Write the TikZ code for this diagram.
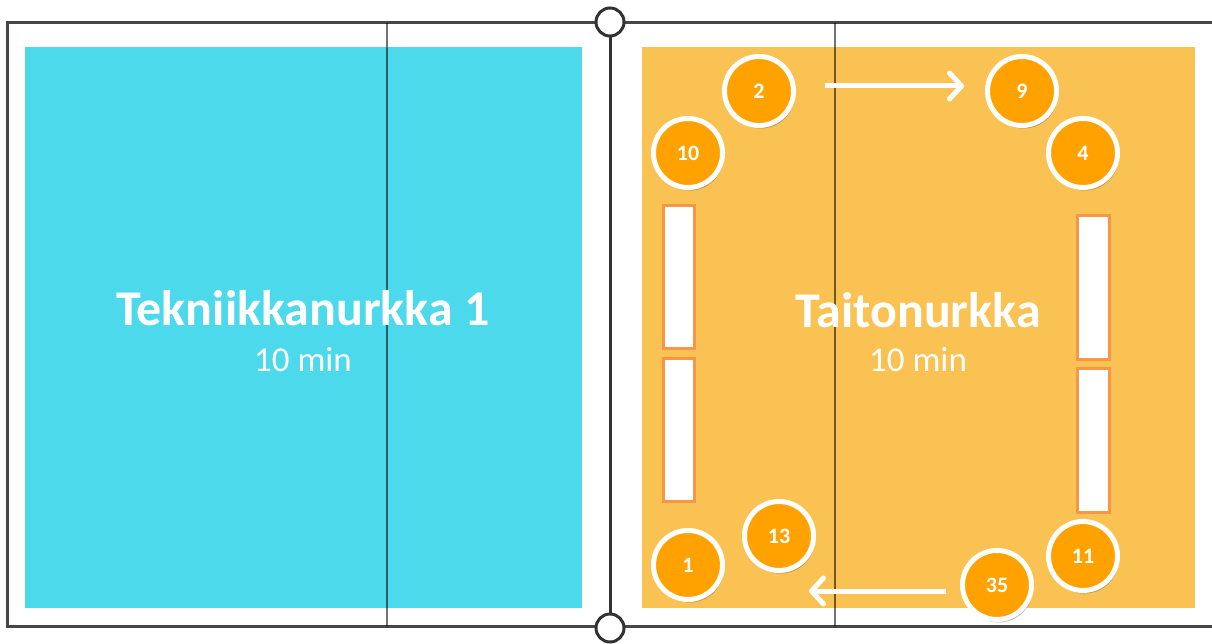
\documentclass[tikz,border=0pt]{standalone}
\usepackage{fontspec}
\setmainfont{Carlito}
\usetikzlibrary{arrows.meta, shadows}

\begin{document}
\begin{tikzpicture}[x=1pt, y=-1pt, line width=1pt,
    player/.style={circle, fill=playerorange, draw=white, line width=5pt,
      minimum size=69pt, inner sep=0pt, text=white, font=\bfseries\fontsize{22}{26}\selectfont,
      drop shadow={shadow xshift=1.5pt, shadow yshift=-3pt, opacity=0.4, fill=black!70}},
    post/.style={circle, fill=white, draw=linegray, line width=3pt, minimum size=28pt, inner sep=0pt},
    bench/.style={draw=benchedge, fill=white, line width=3pt},
    title/.style={text=white, font=\bfseries\fontsize{50}{58}\selectfont},
    subtitle/.style={text=white, font=\fontsize{35}{42}\selectfont},
    move/.style={white, line width=5pt, -{Straight Barb[length=12pt, width=26pt, round]}}]
  % värit
  \definecolor{courtcyan}{RGB}{77,217,236}
  \definecolor{courtorange}{RGB}{250,194,82}
  \definecolor{playerorange}{RGB}{255,162,0}
  \definecolor{benchedge}{RGB}{247,150,70}
  \definecolor{linegray}{RGB}{50,50,50}

  \useasboundingbox (0,0) rectangle (1212,644);

  % kentän reunat
  \draw[linegray!90, line width=3pt] (7,23) rectangle (1214,626);

  % kulmat
  \fill[courtcyan] (25,47) rectangle (582,608);
  \fill[courtorange] (642,47) rectangle (1195,608);

  % keskiviivat
  \draw[black, opacity=0.55, line width=1.2pt] (387,23) -- (387,626);
  \draw[black, opacity=0.55, line width=1.2pt] (835,23) -- (835,626);

  % verkko
  \node[post] (postT) at (610,22) {};
  \node[post] (postB) at (610,628) {};
  \draw[linegray, line width=3pt] (postT) -- (postB);

  % penkit
  \draw[bench] (663,206) rectangle (694,348);
  \draw[bench] (663,358) rectangle (694,501);
  \draw[bench] (1077,216) rectangle (1109,359);
  \draw[bench] (1077,368) rectangle (1109,512);

  % kiertosuunta
  \coordinate (topFrom) at (825,86);
  \coordinate (topTo) at (964,86);
  \coordinate (botFrom) at (946,591);
  \coordinate (botTo) at (809,591);
  \draw[move] (topFrom) -- (topTo);
  \draw[move] (botFrom) -- (botTo);

  % pelaajat
  \node[player] (p2) at (759,91) {2};
  \node[player] (p10) at (688,153) {10};
  \node[player] (p9) at (1022,91) {9};
  \node[player] (p4) at (1083,153) {4};
  \node[player] (p13) at (779,536) {13};
  \node[player] (p1) at (688,565) {1};
  \node[player] (p11) at (1083,556) {11};
  \node[player] (p35) at (997,585) {35};

  % tekstit
  \node[title] (techName) at (303,308) {Tekniikkanurkka 1};
  \node[subtitle] (techTime) at (303,360) {10 min};
  \node[title] (skillName) at (918,310) {Taitonurkka};
  \node[subtitle] (skillTime) at (918,360) {10 min};

\end{tikzpicture}
\end{document}
